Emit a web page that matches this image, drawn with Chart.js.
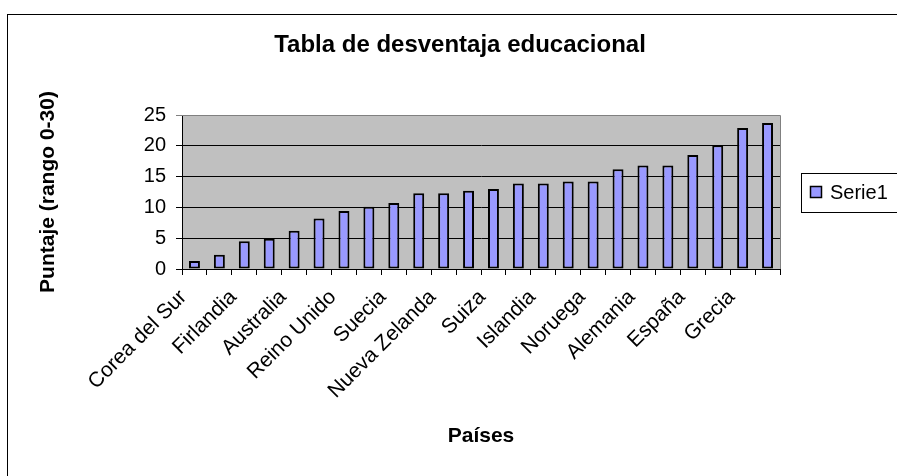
<!DOCTYPE html>
<html>
<head>
<meta charset="utf-8">
<script src="https://cdn.jsdelivr.net/npm/chart.js@4"></script>
<style>
  html, body { margin: 0; padding: 0; background: #fff; }
  canvas { display: block; }
</style>
</head>
<body>
<canvas id="chart" width="897" height="476"></canvas>
<script>
// paises ordenados por puntaje
var paises = ['Corea del Sur', 'Japón', 'Firlandia', 'Canadá', 'Australia', 'Austria',
    'Reino Unido', 'Irlanda', 'Suecia', 'República Checa', 'Nueva Zelanda', 'Francia',
    'Suiza', 'Bélgica', 'Islandia', 'Hungría', 'Noruega', 'Estados Unidos',
    'Alemania', 'Dinamarca', 'España', 'Italia', 'Grecia', 'Portugal'];
var puntajes = [1.3, 2.3, 4.5, 4.9, 6.2, 8.2, 9.4, 10.1, 10.7, 12.3, 12.3, 12.7,
    13.0, 13.9, 13.9, 14.2, 14.2, 16.2, 16.8, 16.8, 18.5, 20.1, 22.9, 23.7];
var yTicks = [0, 5, 10, 15, 20, 25];

var titulo = 'Tabla de desventaja educacional';
var nombreSerie = 'Serie1';
var fuente = "'Liberation Sans', Arial, sans-serif";

// marco, fondo gris, titulo y leyenda al estilo Excel
var excelLook = {
    id: 'excelLook',
    beforeDraw: function (chart) {
        var c = chart.ctx, a = chart.chartArea;
        c.save();
        c.fillStyle = '#fff';
        c.fillRect(0, 0, chart.width, chart.height);
        c.strokeStyle = '#000';
        c.lineWidth = 1;
        c.strokeRect(7.5, 14.5, 920, 480);
        c.fillStyle = '#c0c0c0';
        c.fillRect(a.left, a.top, a.right - a.left, a.bottom - a.top);
        c.restore();
    },
    afterDraw: function (chart) {
        var c = chart.ctx, a = chart.chartArea;
        var ds = chart.data.datasets[0];
        c.save();
        // borde gris del area de trazado
        c.strokeStyle = '#808080';
        c.lineWidth = 1;
        c.beginPath();
        c.moveTo(a.left, a.top + 0.5);
        c.lineTo(a.right + 0.5, a.top + 0.5);
        c.lineTo(a.right + 0.5, a.bottom);
        c.stroke();
        // titulo
        c.fillStyle = '#000';
        c.font = 'bold 24px ' + fuente;
        c.textAlign = 'center';
        c.textBaseline = 'alphabetic';
        c.fillText(titulo, 460, 52);
        // leyenda
        c.strokeStyle = '#000';
        c.strokeRect(801.5, 173.5, 110, 39);
        c.fillStyle = ds.backgroundColor;
        c.fillRect(810, 186, 12, 12);
        c.lineWidth = 1.5;
        c.strokeRect(810.5, 186.5, 11, 11);
        c.fillStyle = '#000';
        c.font = '20px ' + fuente;
        c.textAlign = 'left';
        c.fillText(ds.label, 830, 199);
        c.restore();
    }
};

var ctx = document.getElementById('chart').getContext('2d');
var chart = new Chart(ctx, {
    type: 'bar',
    data: {
        labels: paises,
        datasets: [{
            label: nombreSerie,
            data: puntajes,
            backgroundColor: '#9999ff',
            borderColor: '#000',
            borderWidth: 2,
            borderSkipped: false,
            barPercentage: 0.44,
            categoryPercentage: 1
        }]
    },
    options: {
        responsive: false,
        animation: false,
        devicePixelRatio: 1,
        layout: {
            padding: { left: 36, top: 115, right: 117, bottom: 27 }
        },
        plugins: {
            legend: { display: false },
            title: { display: false },
            tooltip: { enabled: false }
        },
        scales: {
            x: {
                afterFit: function (scale) { scale.height = 180; },
                grid: {
                    display: true,
                    drawOnChartArea: false,
                    color: '#000',
                    tickLength: 6
                },
                border: { color: '#000', width: 1 },
                ticks: {
                    autoSkip: false,
                    minRotation: 45,
                    maxRotation: 45,
                    padding: 10,
                    labelOffset: -11,
                    color: '#000',
                    font: { family: fuente, size: 21 },
                    callback: function (value, index) {
                        return index % 2 === 0 ? paises[index] : '';
                    }
                },
                title: {
                    display: true,
                    text: 'Países',
                    color: '#000',
                    padding: 0,
                    font: { family: fuente, size: 21, weight: 'bold' }
                }
            },
            y: {
                min: yTicks[0],
                max: yTicks[yTicks.length - 1],
                afterFit: function (scale) { scale.width = 146; },
                afterBuildTicks: function (scale) {
                    scale.ticks = yTicks.map(function (v) { return { value: v }; });
                },
                grid: {
                    color: function (context) {
                        return context.tick && context.tick.value === 25 ? '#808080' : '#000';
                    },
                    tickLength: 6
                },
                border: { color: '#000', width: 1 },
                ticks: {
                    padding: 10,
                    color: '#000',
                    font: { family: fuente, size: 20 }
                },
                title: {
                    display: true,
                    text: 'Puntaje (rango 0-30)',
                    color: '#000',
                    padding: 0,
                    font: { family: fuente, size: 21, weight: 'bold' }
                }
            }
        }
    },
    plugins: [excelLook]
});
</script>
</body>
</html>
